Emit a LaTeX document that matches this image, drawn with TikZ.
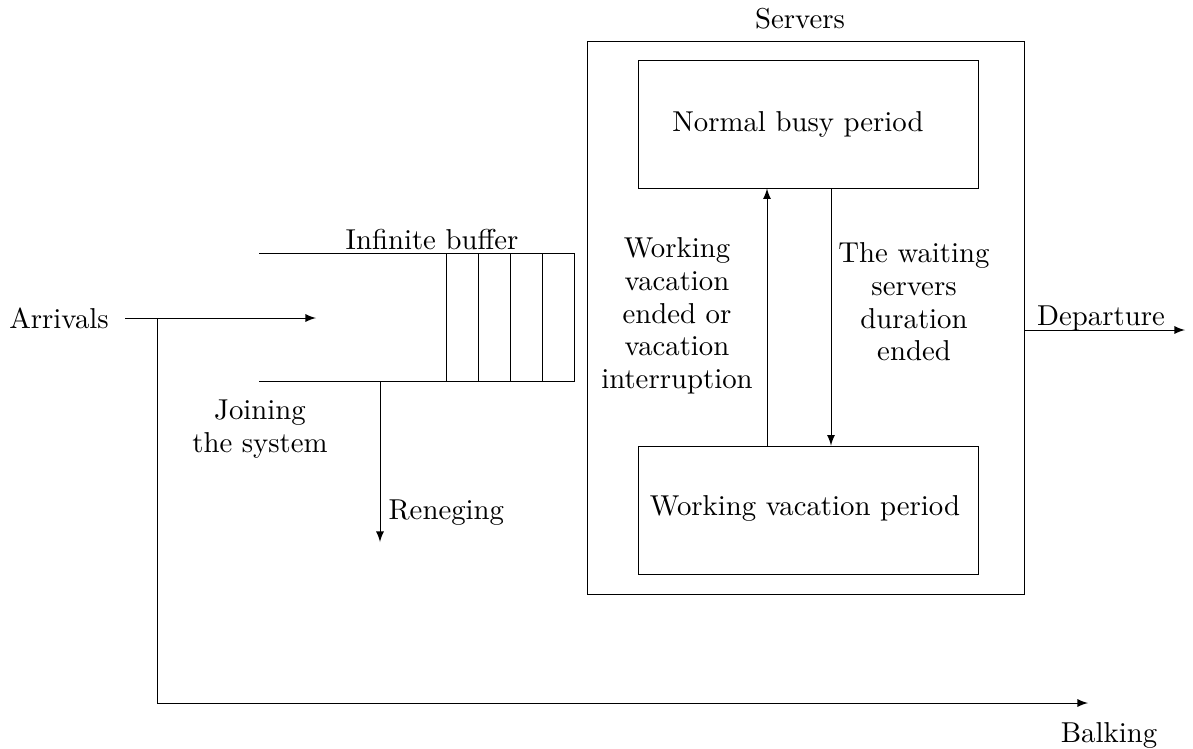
\documentclass[tikz,border=0pt]{standalone}
\usetikzlibrary{fit}
\begin{document}
\begin{tikzpicture}[x=0.351pt,y=-0.351pt,
  box/.style={draw, inner sep=0pt, line width=0.3pt},
  txt/.style={inner sep=0pt, align=center, font=\fontsize{10.1}{11.5}\selectfont},
  arr/.style={-latex, line width=0.3pt},
  ln/.style={line width=0.3pt}]
\useasboundingbox (0,0) rectangle (1193,748);
% servers
\node[box, fit={(587,41)(1024,594)}] (srv) {};
\node[txt, anchor=base] (srvlab) at (800,28) {Servers};
\node[box, fit={(638,60)(978,188)}] (nb) {};
\node[txt, anchor=base] (nblab) at (798,131) {Normal busy period};
\node[box, fit={(638,446)(978,574)}] (wv) {};
\node[txt, anchor=base] (wvlab) at (805,515) {Working vacation period};
\coordinate (upx) at (767,0);
\coordinate (dnx) at (831,0);
\draw[arr] (upx |- wv.north) -- (upx |- nb.south);
\draw[arr] (dnx |- nb.south) -- (dnx |- wv.north);
\node[txt] (lefttxt) at (677,316) {Working\\vacation\\ended or\\vacation\\interruption};
\node[txt] (righttxt) at (914,302) {The waiting\\servers\\duration\\ended};
% departure
\coordinate (dep) at (1185,330);
\draw[arr] (srv.east |- dep) -- (dep);
\node[txt, anchor=base] (deplab) at (1101,325) {Departure};
% buffer
\coordinate (bt0) at (259,253);
\coordinate (bt1) at (574,253);
\coordinate (bb0) at (259,381);
\coordinate (bb1) at (574,381);
\draw[ln] (bt0) -- (bt1) -- (bb1) -- (bb0);
\foreach \x in {446,478,510,542} \draw[ln] (\x,253) -- (\x,381);
\node[txt, anchor=base] (buflab) at (432,249) {Infinite buffer};
% arrivals
\node[txt, anchor=base] (arrlab) at (59,328) {Arrivals};
\coordinate (a0) at (125,318);
\coordinate (a1) at (316,318);
\coordinate (asplit) at (157,318);
\draw[arr] (a0) -- (a1);
\coordinate (balkend) at (1088,703);
\draw[arr] (asplit) |- (balkend);
\node[txt, anchor=base] (balklab) at (1109,742) {Balking};
\node[txt] (joinlab) at (260,429) {Joining\\the system};
% reneging
\coordinate (r0) at (380,381);
\coordinate (r1) at (380,542);
\draw[arr] (r0) -- (r1);
\node[txt, anchor=base west] (renlab) at (388,519) {Reneging};
\end{tikzpicture}
\end{document}
